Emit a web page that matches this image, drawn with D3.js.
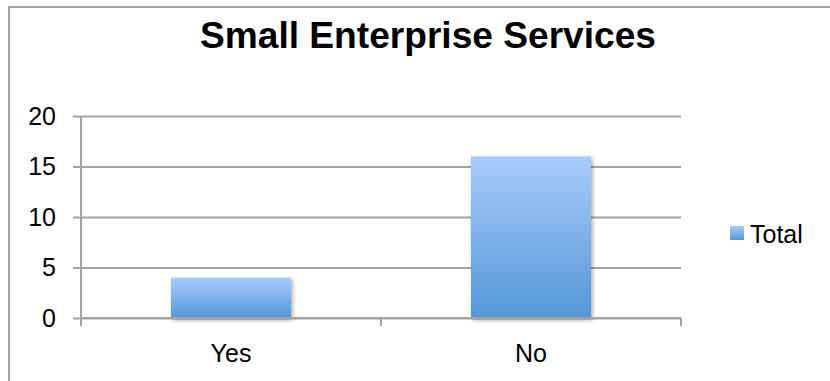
<!DOCTYPE html>
<html>
<head>
<meta charset="utf-8">
<script src="https://cdn.jsdelivr.net/npm/d3@7"></script>
<style>
  html, body { margin: 0; padding: 0; background: #ffffff; }
  svg { display: block; }
  text { font-family: "Liberation Sans", Arial, Helvetica, sans-serif; fill: #000; }
</style>
</head>
<body>
<svg id="chart" width="830" height="381"></svg>
<script>
// Chart data
const chartTitle = "Small Enterprise Services";
const categories = ["Yes", "No"];
const totals = [4, 16];
const seriesName = "Total";
const yTicks = [0, 5, 10, 15, 20];

const svg = d3.select("#chart");
const W = 830, H = 381;

// Plot area
const plot = { left: 81, right: 681, top: 116, bottom: 318 };

const x = d3.scaleBand()
  .domain(categories)
  .range([plot.left, plot.right])
  .paddingInner(0.6)
  .paddingOuter(0.3);

const y = d3.scaleLinear()
  .domain([0, 20])
  .range([plot.bottom, plot.top]);

// Definitions: bar gradient and soft drop shadow
const defs = svg.append("defs");
const grad = defs.append("linearGradient")
  .attr("id", "barFill")
  .attr("x1", 0).attr("y1", 0).attr("x2", 0).attr("y2", 1);
grad.append("stop").attr("offset", "0%").attr("stop-color", "#a9cbfb");
grad.append("stop").attr("offset", "100%").attr("stop-color", "#5596d8");

const legGrad = defs.append("linearGradient")
  .attr("id", "legFill")
  .attr("x1", 0).attr("y1", 0).attr("x2", 0).attr("y2", 1);
legGrad.append("stop").attr("offset", "0%").attr("stop-color", "#a9cbfb");
legGrad.append("stop").attr("offset", "100%").attr("stop-color", "#5596d8");

const shadow = defs.append("filter")
  .attr("id", "barShadow")
  .attr("x", "-10%").attr("y", "-10%").attr("width", "130%").attr("height", "130%");
shadow.append("feDropShadow")
  .attr("dx", 1.5).attr("dy", 2)
  .attr("stdDeviation", 2)
  .attr("flood-color", "#000")
  .attr("flood-opacity", 0.35);

// Outer chart frame
svg.append("rect")
  .attr("x", 9).attr("y", 7)
  .attr("width", W + 20).attr("height", H + 20)
  .attr("fill", "none")
  .attr("stroke", "#a3a3a3")
  .attr("stroke-width", 2);

// Title
svg.append("text")
  .attr("x", 428).attr("y", 48)
  .attr("text-anchor", "middle")
  .attr("textLength", 456)
  .attr("lengthAdjust", "spacingAndGlyphs")
  .style("font-size", "36px")
  .style("font-weight", "bold")
  .text(chartTitle);

// Horizontal gridlines with tick stubs on the left
const yAxis = d3.axisLeft(y)
  .tickValues(yTicks)
  .tickSize(-(plot.right - plot.left))
  .tickPadding(25)
  .tickFormat(d3.format("d"));

const gy = svg.append("g")
  .attr("transform", `translate(${plot.left},0)`)
  .call(yAxis);
gy.select(".domain").remove();
gy.selectAll(".tick line")
  .attr("x1", -8)
  .attr("stroke", "#a3a3a3")
  .attr("stroke-width", 2);
gy.selectAll(".tick text")
  .style("font-size", "25px")
  .attr("fill", "#000");

// Vertical axis line
svg.append("line")
  .attr("x1", plot.left).attr("x2", plot.left)
  .attr("y1", plot.top).attr("y2", plot.bottom + 7)
  .attr("stroke", "#a3a3a3")
  .attr("stroke-width", 2);

// Bars
svg.append("g")
  .selectAll("rect")
  .data(categories.map((c, i) => ({ c, v: totals[i] })))
  .join("rect")
  .attr("x", d => x(d.c))
  .attr("y", d => y(d.v))
  .attr("width", x.bandwidth())
  .attr("height", d => y(0) - y(d.v))
  .attr("fill", "url(#barFill)")
  .attr("filter", "url(#barShadow)");

// Category axis along the bottom, tick marks at band edges
const step = x.step();
const edges = [plot.left, plot.left + step, plot.left + 2 * step];
const gx = svg.append("g");
gx.append("line")
  .attr("x1", plot.left).attr("x2", plot.right)
  .attr("y1", plot.bottom).attr("y2", plot.bottom)
  .attr("stroke", "#a3a3a3")
  .attr("stroke-width", 2);
gx.selectAll("line.edge")
  .data(edges)
  .join("line")
  .attr("class", "edge")
  .attr("x1", d => d).attr("x2", d => d)
  .attr("y1", plot.bottom).attr("y2", plot.bottom + 8)
  .attr("stroke", "#a3a3a3")
  .attr("stroke-width", 2);
gx.selectAll("text")
  .data(categories)
  .join("text")
  .attr("x", d => x(d) + x.bandwidth() / 2)
  .attr("y", 362)
  .attr("text-anchor", "middle")
  .style("font-size", "25px")
  .text(d => d);

// Legend
const leg = svg.append("g").attr("transform", "translate(730,226)");
leg.append("rect")
  .attr("width", 14).attr("height", 14)
  .attr("fill", "url(#legFill)");
leg.append("text")
  .attr("x", 20).attr("y", 17)
  .style("font-size", "25px")
  .text(seriesName);
</script>
</body>
</html>
